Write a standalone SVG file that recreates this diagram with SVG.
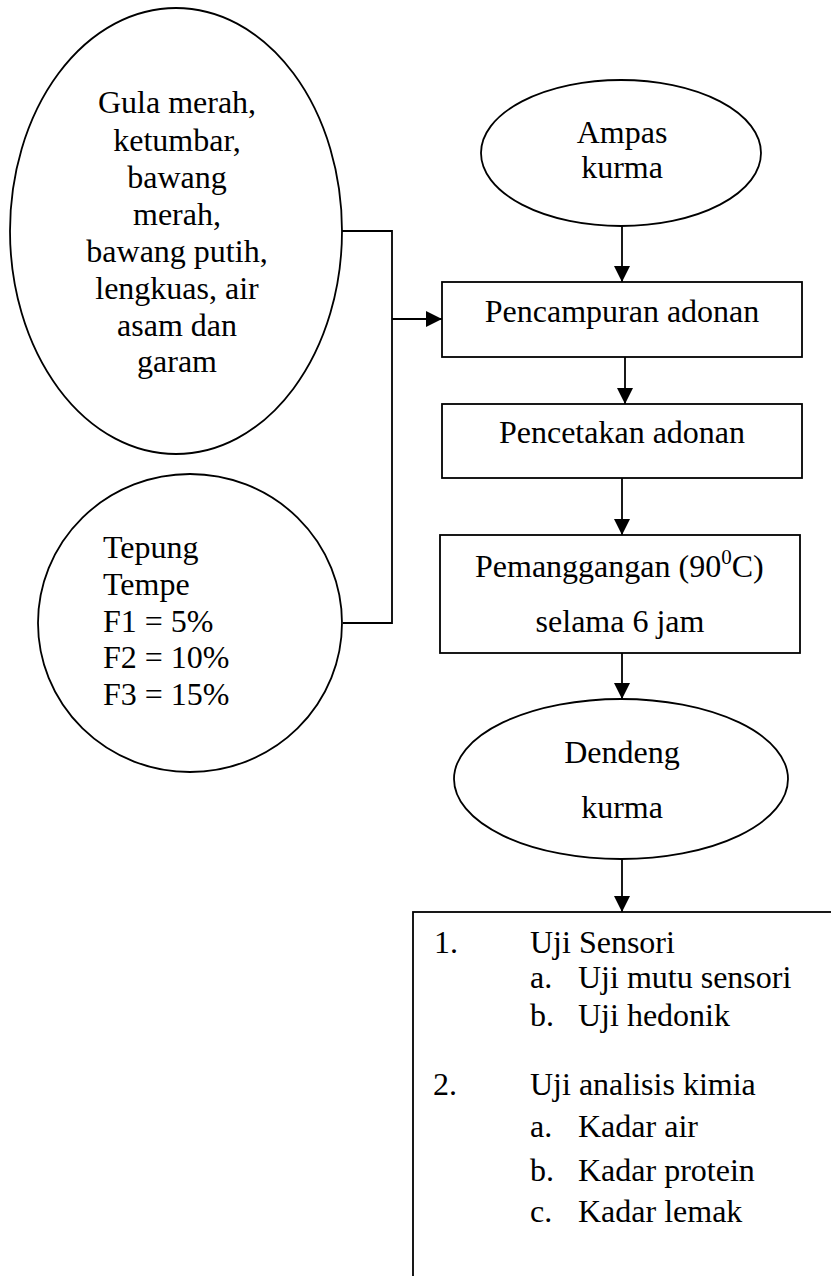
<svg xmlns="http://www.w3.org/2000/svg" width="831" height="1276" viewBox="0 0 831 1276">
<style>
  .shape { fill: #fff; stroke: #000; stroke-width: 1.8; }
  .t { font-family: 'Liberation Serif', 'DejaVu Serif', serif; font-size: 32px; fill: #000; }
  .c { text-anchor: middle; }
  .line { fill: none; stroke: #000; stroke-width: 1.8; }
</style>
<defs>
  <marker id="arrow" viewBox="0 0 10 10" refX="10" refY="5" markerWidth="16" markerHeight="16" markerUnits="userSpaceOnUse" orient="auto">
    <path d="M0,0 L10,5 L0,10 Z" fill="#000"/>
  </marker>
</defs>
<rect width="831" height="1276" fill="#fff"/>

<g id="connectors">
  <polyline class="line" points="342,231 392,231 392,623 343,623"/>
  <line class="line" x1="392" y1="319" x2="442" y2="319" marker-end="url(#arrow)"/>
  <line class="line" x1="622" y1="226" x2="622" y2="282" marker-end="url(#arrow)"/>
  <line class="line" x1="625" y1="357" x2="625" y2="404" marker-end="url(#arrow)"/>
  <line class="line" x1="622" y1="478" x2="622" y2="535" marker-end="url(#arrow)"/>
  <line class="line" x1="622" y1="653" x2="622" y2="699" marker-end="url(#arrow)"/>
  <line class="line" x1="622" y1="859" x2="622" y2="912" marker-end="url(#arrow)"/>
</g>

<g id="bumbu">
  <ellipse class="shape" cx="176" cy="231" rx="166" ry="223"/>
  <text class="t c" x="177" y="113" font-family="Liberation Serif">Gula merah,</text>
  <text class="t c" x="177" y="151">ketumbar,</text>
  <text class="t c" x="177" y="188">bawang</text>
  <text class="t c" x="177" y="225">merah,</text>
  <text class="t c" x="177" y="262">bawang putih,</text>
  <text class="t c" x="177" y="299">lengkuas, air</text>
  <text class="t c" x="177" y="336">asam dan</text>
  <text class="t c" x="177" y="372">garam</text>
</g>

<g id="tepung">
  <ellipse class="shape" cx="190" cy="623" rx="152" ry="149"/>
  <text class="t" x="103" y="558">Tepung</text>
  <text class="t" x="103" y="595">Tempe</text>
  <text class="t" x="103" y="632">F1 = 5%</text>
  <text class="t" x="103" y="668">F2 = 10%</text>
  <text class="t" x="103" y="705">F3 = 15%</text>
</g>

<g id="ampas">
  <ellipse class="shape" cx="621" cy="153" rx="140" ry="73"/>
  <text class="t c" x="622" y="143">Ampas</text>
  <text class="t c" x="622" y="178">kurma</text>
</g>

<g id="pencampuran">
  <rect class="shape" x="442" y="282" width="360" height="75"/>
  <text class="t c" x="622" y="322">Pencampuran adonan</text>
</g>

<g id="pencetakan">
  <rect class="shape" x="442" y="404" width="360" height="74"/>
  <text class="t c" x="622" y="443">Pencetakan adonan</text>
</g>

<g id="pemanggangan">
  <rect class="shape" x="440" y="535" width="360" height="118"/>
  <text class="t" x="475" y="577">Pemanggangan (90<tspan font-size="21" dy="-13">0</tspan><tspan dy="13">C)</tspan></text>
  <text class="t c" x="620" y="632">selama 6 jam</text>
</g>

<g id="dendeng">
  <ellipse class="shape" cx="621" cy="779" rx="167" ry="80"/>
  <text class="t c" x="622" y="763">Dendeng</text>
  <text class="t c" x="622" y="818">kurma</text>
</g>

<g id="uji">
  <rect class="shape" x="413" y="912" width="440" height="400"/>
  <text class="t" x="434" y="953">1.</text>
  <text class="t" x="530" y="953">Uji Sensori</text>
  <text class="t" x="530" y="988">a.</text>
  <text class="t" x="578" y="988">Uji mutu sensori</text>
  <text class="t" x="530" y="1026">b.</text>
  <text class="t" x="578" y="1026">Uji hedonik</text>
  <text class="t" x="433" y="1095">2.</text>
  <text class="t" x="530" y="1095">Uji analisis kimia</text>
  <text class="t" x="530" y="1137">a.</text>
  <text class="t" x="578" y="1137">Kadar air</text>
  <text class="t" x="530" y="1181">b.</text>
  <text class="t" x="578" y="1181">Kadar protein</text>
  <text class="t" x="530" y="1222">c.</text>
  <text class="t" x="578" y="1222">Kadar lemak</text>
</g>
</svg>
